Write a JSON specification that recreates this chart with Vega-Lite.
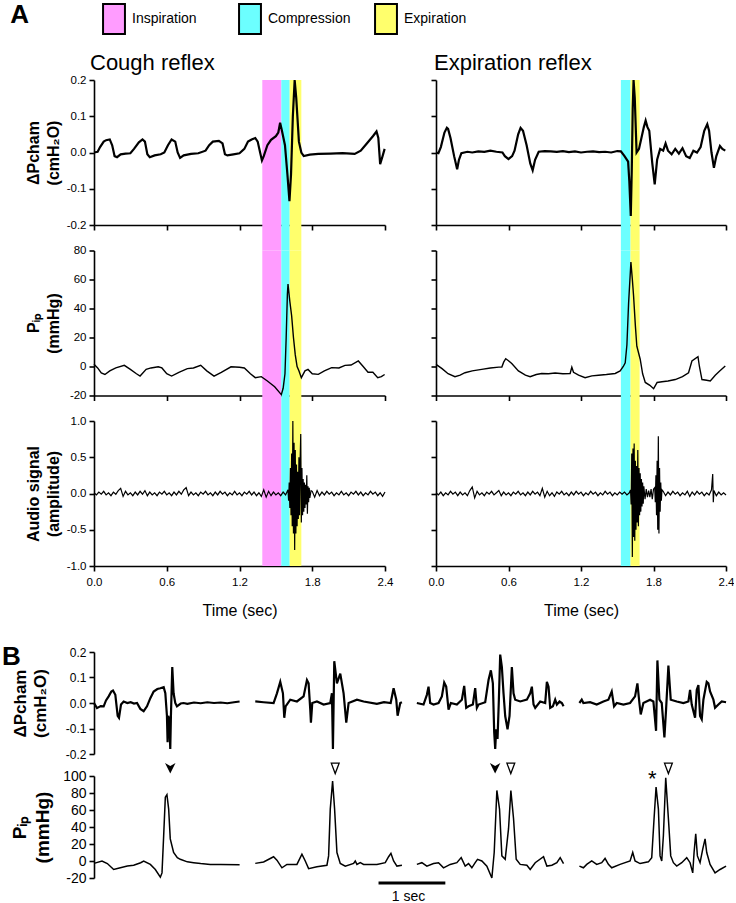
{
"$schema": "https://vega.github.io/schema/vega-lite/v6.json",
"background": "white",
"padding": {"left": 2, "top": 1, "right": 0, "bottom": 0},
"config": {
  "view": {"stroke": null},
  "font": "Liberation Sans",
  "axis": {"grid": false, "domainColor": "black", "domainWidth": 1.6, "tickColor": "black", "tickWidth": 1.6, "tickSize": 5, "labelColor": "black", "labelFont": "Liberation Sans", "labelFontSize": 11.5, "labelPadding": 3, "titleColor": "black", "titleFont": "Liberation Sans", "titleFontWeight": "bold", "titleFontSize": 16, "titleLineHeight": 20, "zindex": 1, "labelOverlap": false},
  "axisX": {"labelFlush": false, "labelPadding": 5, "titleFontWeight": "normal", "titleFontSize": 16, "titlePadding": 15},
  "title": {"font": "Liberation Sans", "color": "black"},
  "legend": {"orient": "none", "legendX": 4, "legendY": -77, "direction": "horizontal", "symbolType": "M-0.73,-1H0.73V1H-0.73Z", "symbolSize": 900, "symbolStrokeColor": "black", "symbolStrokeWidth": 2, "symbolOpacity": 1, "labelFont": "Liberation Sans", "labelFontSize": 14, "labelColor": "black", "labelOffset": 2, "columnPadding": 19, "gridAlign": "all"}
},
"datasets": {
  "bands": [
    {"col": "cough", "phase": "Inspiration", "start": 1.388, "end": 1.545},
    {"col": "cough", "phase": "Compression", "start": 1.545, "end": 1.614},
    {"col": "cough", "phase": "Expiration", "start": 1.614, "end": 1.71},
    {"col": "exp", "phase": "Compression", "start": 1.53, "end": 1.61},
    {"col": "exp", "phase": "Expiration", "start": 1.61, "end": 1.685}
  ],
  "cough_dp": [
    {"t":0.00,"v":0.000},{"t":0.03,"v":0.002},{"t":0.05,"v":0.015},{"t":0.08,"v":0.030},{"t":0.10,"v":0.034},{"t":0.13,"v":0.036},{"t":0.15,"v":0.020},{"t":0.17,"v":-0.010},{"t":0.19,"v":-0.013},{"t":0.22,"v":-0.005},{"t":0.26,"v":-0.003},{"t":0.30,"v":-0.002},{"t":0.33,"v":0.010},{"t":0.37,"v":0.028},{"t":0.40,"v":0.036},{"t":0.42,"v":0.030},{"t":0.44,"v":-0.005},{"t":0.46,"v":-0.013},{"t":0.50,"v":-0.008},{"t":0.55,"v":-0.005},{"t":0.58,"v":0.000},{"t":0.61,"v":0.020},{"t":0.64,"v":0.036},{"t":0.67,"v":0.030},{"t":0.69,"v":0.000},{"t":0.71,"v":-0.015},{"t":0.74,"v":-0.008},{"t":0.80,"v":-0.004},{"t":0.86,"v":-0.002},{"t":0.92,"v":0.005},{"t":0.95,"v":0.020},{"t":0.98,"v":0.030},{"t":1.03,"v":0.032},{"t":1.06,"v":0.025},{"t":1.08,"v":-0.005},{"t":1.10,"v":-0.008},{"t":1.15,"v":-0.005},{"t":1.20,"v":-0.002},{"t":1.24,"v":0.010},{"t":1.27,"v":0.030},{"t":1.30,"v":0.036},{"t":1.33,"v":0.040},{"t":1.35,"v":0.030},{"t":1.37,"v":0.000},{"t":1.385,"v":-0.022},{"t":1.40,"v":-0.010},{"t":1.43,"v":0.020},{"t":1.46,"v":0.035},{"t":1.50,"v":0.045},{"t":1.52,"v":0.055},{"t":1.535,"v":0.082},{"t":1.55,"v":0.060},{"t":1.575,"v":0.020},{"t":1.595,"v":-0.060},{"t":1.612,"v":-0.134},{"t":1.625,"v":-0.060},{"t":1.640,"v":0.100},{"t":1.655,"v":0.200},{"t":1.668,"v":0.150},{"t":1.690,"v":0.030},{"t":1.71,"v":0.000},{"t":1.73,"v":-0.010},{"t":1.78,"v":-0.006},{"t":1.85,"v":-0.004},{"t":1.95,"v":-0.003},{"t":2.05,"v":-0.002},{"t":2.15,"v":-0.004},{"t":2.20,"v":0.005},{"t":2.25,"v":0.025},{"t":2.30,"v":0.045},{"t":2.33,"v":0.058},{"t":2.345,"v":0.040},{"t":2.36,"v":-0.032},{"t":2.38,"v":-0.010},{"t":2.397,"v":0.010}
  ],
  "exp_dp": [
    {"t":0.00,"v":0.000},{"t":0.02,"v":-0.002},{"t":0.04,"v":0.015},{"t":0.07,"v":0.055},{"t":0.09,"v":0.068},{"t":0.10,"v":0.065},{"t":0.12,"v":0.040},{"t":0.15,"v":-0.010},{"t":0.175,"v":-0.046},{"t":0.19,"v":-0.020},{"t":0.21,"v":-0.002},{"t":0.26,"v":0.002},{"t":0.30,"v":0.000},{"t":0.35,"v":0.003},{"t":0.40,"v":0.002},{"t":0.45,"v":0.005},{"t":0.50,"v":0.002},{"t":0.55,"v":0.000},{"t":0.57,"v":-0.010},{"t":0.60,"v":-0.018},{"t":0.63,"v":-0.010},{"t":0.65,"v":0.005},{"t":0.68,"v":0.050},{"t":0.70,"v":0.068},{"t":0.72,"v":0.060},{"t":0.75,"v":0.020},{"t":0.78,"v":-0.030},{"t":0.80,"v":-0.049},{"t":0.82,"v":-0.020},{"t":0.85,"v":0.002},{"t":0.90,"v":0.004},{"t":0.95,"v":0.003},{"t":1.00,"v":0.002},{"t":1.05,"v":0.004},{"t":1.10,"v":0.001},{"t":1.15,"v":0.003},{"t":1.20,"v":0.000},{"t":1.25,"v":0.002},{"t":1.30,"v":0.003},{"t":1.35,"v":0.001},{"t":1.40,"v":0.002},{"t":1.45,"v":0.000},{"t":1.50,"v":0.004},{"t":1.53,"v":0.003},{"t":1.56,"v":-0.010},{"t":1.59,"v":-0.025},{"t":1.60,"v":-0.080},{"t":1.612,"v":-0.175},{"t":1.620,"v":-0.050},{"t":1.628,"v":0.120},{"t":1.635,"v":0.200},{"t":1.645,"v":0.150},{"t":1.660,"v":0.000},{"t":1.68,"v":0.010},{"t":1.70,"v":0.040},{"t":1.72,"v":0.070},{"t":1.735,"v":0.088},{"t":1.75,"v":0.070},{"t":1.765,"v":0.060},{"t":1.79,"v":-0.030},{"t":1.81,"v":-0.088},{"t":1.83,"v":-0.020},{"t":1.855,"v":0.010},{"t":1.88,"v":0.005},{"t":1.90,"v":0.025},{"t":1.92,"v":0.005},{"t":1.95,"v":-0.005},{"t":1.98,"v":0.010},{"t":2.01,"v":-0.003},{"t":2.04,"v":0.012},{"t":2.07,"v":-0.010},{"t":2.10,"v":-0.015},{"t":2.13,"v":0.005},{"t":2.16,"v":0.000},{"t":2.19,"v":0.015},{"t":2.22,"v":0.060},{"t":2.245,"v":0.078},{"t":2.26,"v":0.060},{"t":2.28,"v":0.000},{"t":2.30,"v":-0.042},{"t":2.32,"v":-0.010},{"t":2.35,"v":0.018},{"t":2.37,"v":0.010},{"t":2.394,"v":0.005}
  ],
  "cough_pip": [
    {"t":0.00,"v":1.5},{"t":0.03,"v":-1},{"t":0.06,"v":-4.5},{"t":0.09,"v":-5.5},{"t":0.13,"v":-3},{"t":0.18,"v":-1},{"t":0.25,"v":0.8},{"t":0.30,"v":-2},{"t":0.35,"v":-5},{"t":0.38,"v":-6.6},{"t":0.43,"v":-2},{"t":0.47,"v":-1},{"t":0.53,"v":-0.2},{"t":0.56,"v":-1},{"t":0.60,"v":-5},{"t":0.64,"v":-6.6},{"t":0.70,"v":-4},{"t":0.77,"v":-1.5},{"t":0.82,"v":-1},{"t":0.88,"v":0.8},{"t":0.93,"v":-3},{"t":0.99,"v":-6.6},{"t":1.05,"v":-4},{"t":1.13,"v":-0.2},{"t":1.20,"v":-0.5},{"t":1.24,"v":-1},{"t":1.29,"v":-5},{"t":1.33,"v":-7.7},{"t":1.38,"v":-7},{"t":1.43,"v":-10},{"t":1.49,"v":-14},{"t":1.545,"v":-19.4},{"t":1.56,"v":-15},{"t":1.575,"v":-5},{"t":1.585,"v":20},{"t":1.595,"v":50},{"t":1.60,"v":56.8},{"t":1.615,"v":45},{"t":1.63,"v":35},{"t":1.645,"v":20},{"t":1.66,"v":8},{"t":1.675,"v":0},{"t":1.69,"v":-3},{"t":1.71,"v":-7.7},{"t":1.74,"v":-3},{"t":1.765,"v":-2},{"t":1.80,"v":-5},{"t":1.85,"v":-5.4},{"t":1.90,"v":-3},{"t":1.96,"v":-0.8},{"t":2.02,"v":-1},{"t":2.07,"v":0.8},{"t":2.12,"v":1},{"t":2.18,"v":3.8},{"t":2.22,"v":0},{"t":2.26,"v":-4},{"t":2.30,"v":-4},{"t":2.34,"v":-7.7},{"t":2.37,"v":-7},{"t":2.397,"v":-5.5}
  ],
  "exp_pip": [
    {"t":0.00,"v":1.5},{"t":0.05,"v":-1.5},{"t":0.10,"v":-5},{"t":0.157,"v":-7},{"t":0.20,"v":-6},{"t":0.24,"v":-4.3},{"t":0.30,"v":-3},{"t":0.378,"v":-2},{"t":0.45,"v":-1},{"t":0.52,"v":-0.4},{"t":0.545,"v":-0.4},{"t":0.56,"v":3},{"t":0.577,"v":5.4},{"t":0.60,"v":4},{"t":0.627,"v":2},{"t":0.682,"v":-3},{"t":0.74,"v":-6},{"t":0.779,"v":-7},{"t":0.83,"v":-5.5},{"t":0.875,"v":-4.8},{"t":0.93,"v":-5},{"t":0.986,"v":-4.5},{"t":1.05,"v":-5},{"t":1.11,"v":-4.8},{"t":1.124,"v":-0.5},{"t":1.138,"v":-4},{"t":1.18,"v":-6},{"t":1.234,"v":-7.7},{"t":1.29,"v":-6.5},{"t":1.345,"v":-6},{"t":1.41,"v":-5.5},{"t":1.483,"v":-4.8},{"t":1.524,"v":-3.1},{"t":1.55,"v":0},{"t":1.566,"v":2.6},{"t":1.58,"v":15},{"t":1.594,"v":44},{"t":1.613,"v":72},{"t":1.625,"v":60},{"t":1.635,"v":48.8},{"t":1.65,"v":28},{"t":1.662,"v":14},{"t":1.69,"v":5},{"t":1.71,"v":-5},{"t":1.732,"v":-11},{"t":1.77,"v":-13},{"t":1.801,"v":-15.3},{"t":1.83,"v":-11},{"t":1.87,"v":-10.5},{"t":1.92,"v":-10},{"t":1.98,"v":-9},{"t":2.04,"v":-7},{"t":2.09,"v":-4.3},{"t":2.118,"v":3.8},{"t":2.168,"v":6.8},{"t":2.18,"v":0},{"t":2.201,"v":-9},{"t":2.24,"v":-9.5},{"t":2.27,"v":-10},{"t":2.311,"v":-6},{"t":2.35,"v":-3},{"t":2.394,"v":0.3}
  ],
  "cough_audio": [
    {"t":0.00,"v":0.01},{"t":0.02,"v":-0.02},{"t":0.04,"v":0.02},{"t":0.06,"v":-0.01},{"t":0.08,"v":0.03},{"t":0.10,"v":-0.02},{"t":0.12,"v":0.01},{"t":0.14,"v":-0.03},{"t":0.16,"v":0.02},{"t":0.18,"v":-0.01},{"t":0.20,"v":0.04},{"t":0.22,"v":0.07},{"t":0.24,"v":-0.04},{"t":0.26,"v":0.03},{"t":0.28,"v":-0.02},{"t":0.30,"v":0.01},{"t":0.32,"v":-0.03},{"t":0.34,"v":0.02},{"t":0.36,"v":-0.02},{"t":0.38,"v":0.03},{"t":0.40,"v":-0.01},{"t":0.42,"v":0.04},{"t":0.44,"v":-0.03},{"t":0.46,"v":0.02},{"t":0.48,"v":-0.02},{"t":0.50,"v":0.01},{"t":0.52,"v":-0.03},{"t":0.54,"v":0.02},{"t":0.56,"v":-0.01},{"t":0.58,"v":0.03},{"t":0.60,"v":-0.02},{"t":0.62,"v":0.01},{"t":0.64,"v":-0.03},{"t":0.66,"v":0.02},{"t":0.68,"v":-0.02},{"t":0.70,"v":0.03},{"t":0.72,"v":-0.01},{"t":0.74,"v":0.05},{"t":0.76,"v":0.08},{"t":0.78,"v":-0.03},{"t":0.80,"v":0.02},{"t":0.82,"v":-0.02},{"t":0.84,"v":0.01},{"t":0.86,"v":-0.03},{"t":0.88,"v":0.02},{"t":0.90,"v":-0.01},{"t":0.92,"v":0.03},{"t":0.94,"v":-0.02},{"t":0.96,"v":0.01},{"t":0.98,"v":-0.03},{"t":1.00,"v":0.02},{"t":1.02,"v":-0.02},{"t":1.04,"v":0.03},{"t":1.06,"v":-0.01},{"t":1.08,"v":0.02},{"t":1.10,"v":-0.03},{"t":1.12,"v":0.01},{"t":1.14,"v":-0.02},{"t":1.16,"v":0.03},{"t":1.18,"v":-0.02},{"t":1.20,"v":0.01},{"t":1.22,"v":-0.03},{"t":1.24,"v":0.02},{"t":1.26,"v":-0.01},{"t":1.28,"v":0.03},{"t":1.30,"v":-0.02},{"t":1.32,"v":0.02},{"t":1.34,"v":-0.03},{"t":1.36,"v":0.01},{"t":1.38,"v":-0.04},{"t":1.40,"v":0.05},{"t":1.42,"v":-0.05},{"t":1.44,"v":0.03},{"t":1.46,"v":-0.03},{"t":1.48,"v":0.02},{"t":1.50,"v":-0.02},{"t":1.52,"v":0.01},{"t":1.54,"v":-0.03},{"t":1.56,"v":0.02},{"t":1.58,"v":-0.02},
    {"t":1.600,"v":0.05},{"t":1.605,"v":-0.10},{"t":1.610,"v":0.15},{"t":1.615,"v":-0.20},{"t":1.620,"v":0.35},{"t":1.625,"v":-0.30},{"t":1.630,"v":0.55},{"t":1.635,"v":-0.45},{"t":1.640,"v":1.00},{"t":1.645,"v":-0.55},{"t":1.650,"v":0.70},{"t":1.655,"v":-0.78},{"t":1.660,"v":0.60},{"t":1.665,"v":-0.55},{"t":1.670,"v":0.40},{"t":1.675,"v":-0.45},{"t":1.680,"v":0.30},{"t":1.685,"v":-0.35},{"t":1.690,"v":0.50},{"t":1.695,"v":-0.30},{"t":1.700,"v":0.45},{"t":1.705,"v":0.82},{"t":1.710,"v":-0.40},{"t":1.715,"v":0.35},{"t":1.720,"v":-0.30},{"t":1.725,"v":0.20},{"t":1.730,"v":-0.25},{"t":1.735,"v":0.15},{"t":1.740,"v":-0.20},{"t":1.745,"v":0.12},{"t":1.750,"v":-0.15},{"t":1.755,"v":0.25},{"t":1.760,"v":-0.28},{"t":1.765,"v":0.10},{"t":1.770,"v":-0.12},{"t":1.775,"v":0.08},{"t":1.780,"v":-0.06},{"t":1.790,"v":0.04},
    {"t":1.80,"v":0.03},{"t":1.82,"v":-0.05},{"t":1.84,"v":0.04},{"t":1.86,"v":-0.03},{"t":1.88,"v":0.02},{"t":1.90,"v":-0.02},{"t":1.92,"v":0.03},{"t":1.94,"v":-0.01},{"t":1.96,"v":0.02},{"t":1.98,"v":-0.03},{"t":2.00,"v":0.01},{"t":2.02,"v":-0.02},{"t":2.04,"v":0.03},{"t":2.06,"v":-0.02},{"t":2.08,"v":0.01},{"t":2.10,"v":-0.03},{"t":2.12,"v":0.02},{"t":2.14,"v":-0.01},{"t":2.16,"v":0.03},{"t":2.18,"v":-0.02},{"t":2.20,"v":0.02},{"t":2.22,"v":-0.03},{"t":2.24,"v":0.01},{"t":2.26,"v":-0.02},{"t":2.28,"v":0.03},{"t":2.30,"v":-0.01},{"t":2.32,"v":0.02},{"t":2.34,"v":-0.03},{"t":2.36,"v":0.01},{"t":2.38,"v":-0.04},{"t":2.40,"v":0.02}
  ],
  "exp_audio": [
    {"t":0.00,"v":0.01},{"t":0.02,"v":-0.02},{"t":0.04,"v":0.02},{"t":0.06,"v":-0.03},{"t":0.08,"v":0.01},{"t":0.10,"v":-0.02},{"t":0.12,"v":0.03},{"t":0.14,"v":-0.01},{"t":0.16,"v":0.02},{"t":0.18,"v":-0.03},{"t":0.20,"v":0.02},{"t":0.22,"v":-0.02},{"t":0.24,"v":0.01},{"t":0.26,"v":-0.03},{"t":0.28,"v":0.04},{"t":0.30,"v":0.09},{"t":0.32,"v":-0.06},{"t":0.34,"v":0.03},{"t":0.36,"v":-0.02},{"t":0.38,"v":0.01},{"t":0.40,"v":-0.03},{"t":0.42,"v":0.02},{"t":0.44,"v":-0.01},{"t":0.46,"v":0.03},{"t":0.48,"v":-0.02},{"t":0.50,"v":0.01},{"t":0.52,"v":0.04},{"t":0.54,"v":-0.03},{"t":0.56,"v":0.02},{"t":0.58,"v":-0.02},{"t":0.60,"v":0.01},{"t":0.62,"v":-0.03},{"t":0.64,"v":0.02},{"t":0.66,"v":-0.01},{"t":0.68,"v":0.03},{"t":0.70,"v":-0.02},{"t":0.72,"v":0.01},{"t":0.74,"v":-0.03},{"t":0.76,"v":0.02},{"t":0.78,"v":-0.02},{"t":0.80,"v":0.03},{"t":0.82,"v":-0.01},{"t":0.84,"v":0.02},{"t":0.86,"v":-0.03},{"t":0.88,"v":0.07},{"t":0.90,"v":-0.05},{"t":0.92,"v":0.03},{"t":0.94,"v":-0.03},{"t":0.96,"v":0.01},{"t":0.98,"v":-0.04},{"t":1.00,"v":0.02},{"t":1.02,"v":-0.01},{"t":1.04,"v":0.03},{"t":1.06,"v":-0.02},{"t":1.08,"v":0.01},{"t":1.10,"v":-0.03},{"t":1.12,"v":0.02},{"t":1.14,"v":-0.02},{"t":1.16,"v":0.03},{"t":1.18,"v":-0.01},{"t":1.20,"v":0.02},{"t":1.22,"v":-0.03},{"t":1.24,"v":0.01},{"t":1.26,"v":-0.02},{"t":1.28,"v":0.03},{"t":1.30,"v":-0.01},{"t":1.32,"v":0.02},{"t":1.34,"v":-0.03},{"t":1.36,"v":0.01},{"t":1.38,"v":-0.02},{"t":1.40,"v":0.03},{"t":1.42,"v":-0.01},{"t":1.44,"v":0.02},{"t":1.46,"v":-0.03},{"t":1.48,"v":0.01},{"t":1.50,"v":-0.02},{"t":1.52,"v":0.02},{"t":1.54,"v":-0.01},{"t":1.56,"v":0.02},{"t":1.58,"v":-0.02},{"t":1.60,"v":0.01},
    {"t":1.610,"v":0.05},{"t":1.615,"v":-0.15},{"t":1.620,"v":0.55},{"t":1.625,"v":-0.875},{"t":1.630,"v":0.62},{"t":1.635,"v":-0.60},{"t":1.640,"v":0.69},{"t":1.645,"v":-0.65},{"t":1.650,"v":0.45},{"t":1.655,"v":-0.50},{"t":1.660,"v":0.38},{"t":1.665,"v":-0.40},{"t":1.670,"v":0.60},{"t":1.675,"v":-0.45},{"t":1.680,"v":0.35},{"t":1.685,"v":-0.30},{"t":1.690,"v":0.28},{"t":1.695,"v":-0.25},{"t":1.700,"v":0.20},{"t":1.705,"v":-0.18},{"t":1.710,"v":0.15},{"t":1.715,"v":-0.14},{"t":1.720,"v":0.10},{"t":1.730,"v":-0.08},{"t":1.740,"v":0.06},{"t":1.750,"v":-0.05},{"t":1.760,"v":0.04},{"t":1.770,"v":-0.05},{"t":1.780,"v":0.06},{"t":1.790,"v":-0.08},{"t":1.800,"v":0.06},{"t":1.810,"v":0.08},{"t":1.815,"v":-0.12},{"t":1.820,"v":0.25},{"t":1.825,"v":-0.30},{"t":1.830,"v":0.45},{"t":1.835,"v":-0.50},{"t":1.840,"v":0.79},{"t":1.845,"v":-0.55},{"t":1.850,"v":0.35},{"t":1.855,"v":-0.25},{"t":1.860,"v":0.15},{"t":1.865,"v":-0.10},{"t":1.870,"v":0.05},
    {"t":1.88,"v":0.03},{"t":1.90,"v":-0.03},{"t":1.92,"v":0.02},{"t":1.94,"v":-0.02},{"t":1.96,"v":0.03},{"t":1.98,"v":-0.01},{"t":2.00,"v":0.02},{"t":2.02,"v":-0.03},{"t":2.04,"v":0.01},{"t":2.06,"v":-0.02},{"t":2.08,"v":0.03},{"t":2.10,"v":-0.04},{"t":2.12,"v":0.02},{"t":2.14,"v":-0.02},{"t":2.16,"v":0.03},{"t":2.18,"v":-0.01},{"t":2.20,"v":0.02},{"t":2.22,"v":-0.03},{"t":2.24,"v":0.01},{"t":2.26,"v":-0.02},{"t":2.28,"v":0.05},{"t":2.29,"v":0.27},{"t":2.295,"v":-0.12},{"t":2.30,"v":0.04},{"t":2.32,"v":-0.03},{"t":2.34,"v":0.02},{"t":2.36,"v":-0.02},{"t":2.38,"v":0.01},{"t":2.40,"v":-0.02}
  ],
  "b_dp": [
    {"seg":1,"t":0.00,"v":0.000},{"seg":1,"t":0.045,"v":-0.020},{"seg":1,"t":0.10,"v":-0.012},{"seg":1,"t":0.145,"v":-0.013},{"seg":1,"t":0.18,"v":0.010},{"seg":1,"t":0.22,"v":0.026},{"seg":1,"t":0.26,"v":0.045},{"seg":1,"t":0.285,"v":0.049},{"seg":1,"t":0.32,"v":0.032},{"seg":1,"t":0.355,"v":-0.050},{"seg":1,"t":0.375,"v":-0.058},{"seg":1,"t":0.405,"v":-0.006},{"seg":1,"t":0.445,"v":0.006},{"seg":1,"t":0.50,"v":0.000},{"seg":1,"t":0.55,"v":0.003},{"seg":1,"t":0.60,"v":-0.002},{"seg":1,"t":0.645,"v":0.000},{"seg":1,"t":0.695,"v":-0.023},{"seg":1,"t":0.745,"v":-0.032},{"seg":1,"t":0.795,"v":-0.013},{"seg":1,"t":0.845,"v":0.019},{"seg":1,"t":0.895,"v":0.045},{"seg":1,"t":0.95,"v":0.055},{"seg":1,"t":0.995,"v":0.058},{"seg":1,"t":1.045,"v":0.062},{"seg":1,"t":1.07,"v":0.038},{"seg":1,"t":1.094,"v":-0.050},{"seg":1,"t":1.104,"v":-0.154},{"seg":1,"t":1.114,"v":-0.050},{"seg":1,"t":1.13,"v":-0.064},{"seg":1,"t":1.144,"v":-0.180},{"seg":1,"t":1.154,"v":-0.050},{"seg":1,"t":1.174,"v":0.141},{"seg":1,"t":1.194,"v":0.038},{"seg":1,"t":1.219,"v":0.000},{"seg":1,"t":1.244,"v":-0.013},{"seg":1,"t":1.30,"v":-0.002},{"seg":1,"t":1.344,"v":0.000},{"seg":1,"t":1.40,"v":-0.003},{"seg":1,"t":1.50,"v":0.002},{"seg":1,"t":1.60,"v":-0.001},{"seg":1,"t":1.70,"v":0.003},{"seg":1,"t":1.80,"v":0.000},{"seg":1,"t":1.90,"v":0.002},{"seg":1,"t":2.00,"v":-0.001},{"seg":1,"t":2.10,"v":0.003},{"seg":1,"t":2.184,"v":0.006},
    {"seg":2,"t":2.419,"v":0.006},{"seg":2,"t":2.544,"v":0.003},{"seg":2,"t":2.694,"v":0.000},{"seg":2,"t":2.744,"v":0.038},{"seg":2,"t":2.794,"v":0.083},{"seg":2,"t":2.834,"v":0.038},{"seg":2,"t":2.854,"v":-0.058},{"seg":2,"t":2.874,"v":-0.013},{"seg":2,"t":2.944,"v":0.013},{"seg":2,"t":3.044,"v":0.006},{"seg":2,"t":3.144,"v":0.026},{"seg":2,"t":3.194,"v":0.090},{"seg":2,"t":3.219,"v":0.077},{"seg":2,"t":3.244,"v":-0.026},{"seg":2,"t":3.254,"v":-0.077},{"seg":2,"t":3.274,"v":0.000},{"seg":2,"t":3.344,"v":0.006},{"seg":2,"t":3.444,"v":-0.006},{"seg":2,"t":3.544,"v":0.000},{"seg":2,"t":3.569,"v":0.038},{"seg":2,"t":3.584,"v":-0.180},{"seg":2,"t":3.604,"v":0.164},{"seg":2,"t":3.644,"v":0.077},{"seg":2,"t":3.694,"v":0.115},{"seg":2,"t":3.744,"v":0.038},{"seg":2,"t":3.784,"v":-0.077},{"seg":2,"t":3.819,"v":0.000},{"seg":2,"t":3.944,"v":0.013},{"seg":2,"t":4.044,"v":0.006},{"seg":2,"t":4.244,"v":-0.003},{"seg":2,"t":4.35,"v":0.003},{"seg":2,"t":4.45,"v":0.000},{"seg":2,"t":4.494,"v":0.058},{"seg":2,"t":4.534,"v":0.013},{"seg":2,"t":4.554,"v":-0.050},{"seg":2,"t":4.594,"v":0.000},{"seg":2,"t":4.619,"v":0.003},
    {"seg":3,"t":4.843,"v":0.000},{"seg":3,"t":4.943,"v":-0.006},{"seg":3,"t":4.993,"v":0.032},{"seg":3,"t":5.018,"v":0.064},{"seg":3,"t":5.043,"v":0.000},{"seg":3,"t":5.093,"v":-0.006},{"seg":3,"t":5.168,"v":0.000},{"seg":3,"t":5.218,"v":0.026},{"seg":3,"t":5.253,"v":0.080},{"seg":3,"t":5.283,"v":0.064},{"seg":3,"t":5.318,"v":-0.026},{"seg":3,"t":5.353,"v":0.000},{"seg":3,"t":5.443,"v":-0.006},{"seg":3,"t":5.518,"v":0.013},{"seg":3,"t":5.553,"v":0.067},{"seg":3,"t":5.583,"v":-0.019},{"seg":3,"t":5.618,"v":-0.013},{"seg":3,"t":5.683,"v":-0.006},{"seg":3,"t":5.718,"v":0.058},{"seg":3,"t":5.743,"v":-0.019},{"seg":3,"t":5.768,"v":-0.006},{"seg":3,"t":5.868,"v":0.003},{"seg":3,"t":5.918,"v":0.090},{"seg":3,"t":5.953,"v":0.128},{"seg":3,"t":5.983,"v":0.077},{"seg":3,"t":6.003,"v":-0.115},{"seg":3,"t":6.018,"v":-0.180},{"seg":3,"t":6.033,"v":-0.103},{"seg":3,"t":6.053,"v":-0.141},{"seg":3,"t":6.073,"v":0.013},{"seg":3,"t":6.093,"v":0.190},{"seg":3,"t":6.118,"v":0.141},{"seg":3,"t":6.143,"v":0.038},{"seg":3,"t":6.168,"v":-0.051},{"seg":3,"t":6.203,"v":-0.103},{"seg":3,"t":6.233,"v":-0.051},{"seg":3,"t":6.268,"v":0.141},{"seg":3,"t":6.293,"v":0.038},{"seg":3,"t":6.318,"v":0.013},{"seg":3,"t":6.393,"v":0.006},{"seg":3,"t":6.493,"v":0.013},{"seg":3,"t":6.543,"v":0.038},{"seg":3,"t":6.568,"v":0.064},{"seg":3,"t":6.593,"v":-0.006},{"seg":3,"t":6.618,"v":-0.019},{"seg":3,"t":6.693,"v":0.006},{"seg":3,"t":6.768,"v":0.000},{"seg":3,"t":6.793,"v":0.083},{"seg":3,"t":6.818,"v":0.064},{"seg":3,"t":6.843,"v":-0.019},{"seg":3,"t":6.883,"v":-0.013},{"seg":3,"t":6.918,"v":0.013},{"seg":3,"t":6.943,"v":-0.006},{"seg":3,"t":6.983,"v":0.006},{"seg":3,"t":7.018,"v":0.000},{"seg":3,"t":7.043,"v":-0.013},
    {"seg":4,"t":7.281,"v":0.000},{"seg":4,"t":7.316,"v":0.013},{"seg":4,"t":7.341,"v":0.000},{"seg":4,"t":7.441,"v":0.003},{"seg":4,"t":7.541,"v":-0.006},{"seg":4,"t":7.641,"v":0.006},{"seg":4,"t":7.716,"v":0.013},{"seg":4,"t":7.766,"v":0.045},{"seg":4,"t":7.801,"v":-0.013},{"seg":4,"t":7.841,"v":0.000},{"seg":4,"t":7.941,"v":-0.006},{"seg":4,"t":8.041,"v":0.000},{"seg":4,"t":8.116,"v":0.026},{"seg":4,"t":8.151,"v":0.077},{"seg":4,"t":8.181,"v":0.000},{"seg":4,"t":8.201,"v":-0.045},{"seg":4,"t":8.241,"v":0.000},{"seg":4,"t":8.341,"v":0.013},{"seg":4,"t":8.391,"v":0.006},{"seg":4,"t":8.431,"v":-0.109},{"seg":4,"t":8.451,"v":0.167},{"seg":4,"t":8.481,"v":0.013},{"seg":4,"t":8.516,"v":0.000},{"seg":4,"t":8.556,"v":-0.135},{"seg":4,"t":8.581,"v":-0.026},{"seg":4,"t":8.616,"v":0.147},{"seg":4,"t":8.651,"v":0.013},{"seg":4,"t":8.741,"v":0.006},{"seg":4,"t":8.841,"v":0.000},{"seg":4,"t":8.916,"v":0.006},{"seg":4,"t":8.941,"v":0.051},{"seg":4,"t":8.966,"v":-0.006},{"seg":4,"t":9.016,"v":-0.058},{"seg":4,"t":9.041,"v":0.051},{"seg":4,"t":9.066,"v":0.070},{"seg":4,"t":9.091,"v":-0.051},{"seg":4,"t":9.116,"v":-0.064},{"seg":4,"t":9.141,"v":0.013},{"seg":4,"t":9.191,"v":0.083},{"seg":4,"t":9.216,"v":0.077},{"seg":4,"t":9.241,"v":0.045},{"seg":4,"t":9.291,"v":0.013},{"seg":4,"t":9.316,"v":-0.019},{"seg":4,"t":9.366,"v":-0.006},{"seg":4,"t":9.416,"v":0.006},{"seg":4,"t":9.481,"v":0.003}
  ],
  "b_pip": [
    {"seg":1,"t":0.00,"v":-2.8},{"seg":1,"t":0.12,"v":0.0},{"seg":1,"t":0.20,"v":-3},{"seg":1,"t":0.295,"v":-10},{"seg":1,"t":0.395,"v":-8},{"seg":1,"t":0.50,"v":-6},{"seg":1,"t":0.595,"v":-5},{"seg":1,"t":0.70,"v":-2},{"seg":1,"t":0.745,"v":0.0},{"seg":1,"t":0.845,"v":-4},{"seg":1,"t":0.92,"v":-10},{"seg":1,"t":0.995,"v":-19},{"seg":1,"t":1.02,"v":-14},{"seg":1,"t":1.045,"v":29.7},{"seg":1,"t":1.07,"v":75},{"seg":1,"t":1.094,"v":78},{"seg":1,"t":1.12,"v":61},{"seg":1,"t":1.144,"v":26},{"seg":1,"t":1.194,"v":10},{"seg":1,"t":1.25,"v":4},{"seg":1,"t":1.294,"v":2},{"seg":1,"t":1.40,"v":-1},{"seg":1,"t":1.494,"v":-2},{"seg":1,"t":1.60,"v":-3},{"seg":1,"t":1.744,"v":-4},{"seg":1,"t":1.90,"v":-4.2},{"seg":1,"t":2.184,"v":-4.4},
    {"seg":2,"t":2.419,"v":-2.8},{"seg":2,"t":2.544,"v":-1.2},{"seg":2,"t":2.694,"v":5},{"seg":2,"t":2.744,"v":1},{"seg":2,"t":2.819,"v":-8},{"seg":2,"t":2.894,"v":-4},{"seg":2,"t":3.044,"v":-4},{"seg":2,"t":3.119,"v":8},{"seg":2,"t":3.169,"v":0},{"seg":2,"t":3.219,"v":-9},{"seg":2,"t":3.344,"v":-6.7},{"seg":2,"t":3.494,"v":-5},{"seg":2,"t":3.519,"v":6},{"seg":2,"t":3.544,"v":61},{"seg":2,"t":3.579,"v":94},{"seg":2,"t":3.609,"v":61},{"seg":2,"t":3.644,"v":10},{"seg":2,"t":3.694,"v":-2.8},{"seg":2,"t":3.769,"v":-6},{"seg":2,"t":3.894,"v":-2.8},{"seg":2,"t":3.919,"v":0},{"seg":2,"t":3.944,"v":-4},{"seg":2,"t":3.994,"v":-2},{"seg":2,"t":4.044,"v":-4},{"seg":2,"t":4.244,"v":-4},{"seg":2,"t":4.369,"v":-2},{"seg":2,"t":4.419,"v":5},{"seg":2,"t":4.454,"v":9},{"seg":2,"t":4.494,"v":0},{"seg":2,"t":4.544,"v":-6},{"seg":2,"t":4.619,"v":-5},
    {"seg":3,"t":4.843,"v":-4},{"seg":3,"t":4.918,"v":-2},{"seg":3,"t":4.993,"v":-6},{"seg":3,"t":5.093,"v":-3},{"seg":3,"t":5.168,"v":-2},{"seg":3,"t":5.243,"v":-8},{"seg":3,"t":5.343,"v":-4},{"seg":3,"t":5.443,"v":-2},{"seg":3,"t":5.508,"v":4},{"seg":3,"t":5.568,"v":-6},{"seg":3,"t":5.618,"v":-3},{"seg":3,"t":5.668,"v":-8},{"seg":3,"t":5.718,"v":-2},{"seg":3,"t":5.753,"v":2},{"seg":3,"t":5.818,"v":0},{"seg":3,"t":5.893,"v":-6},{"seg":3,"t":5.968,"v":-20},{"seg":3,"t":6.003,"v":10},{"seg":3,"t":6.043,"v":83},{"seg":3,"t":6.083,"v":61},{"seg":3,"t":6.118,"v":6},{"seg":3,"t":6.168,"v":2},{"seg":3,"t":6.218,"v":38},{"seg":3,"t":6.253,"v":83},{"seg":3,"t":6.293,"v":50},{"seg":3,"t":6.333,"v":2},{"seg":3,"t":6.393,"v":-4},{"seg":3,"t":6.493,"v":-5},{"seg":3,"t":6.543,"v":-10},{"seg":3,"t":6.618,"v":-2},{"seg":3,"t":6.743,"v":5},{"seg":3,"t":6.793,"v":-6},{"seg":3,"t":6.868,"v":-5},{"seg":3,"t":6.943,"v":-2},{"seg":3,"t":6.993,"v":4},{"seg":3,"t":7.043,"v":-3},
    {"seg":4,"t":7.281,"v":-6},{"seg":4,"t":7.341,"v":-8},{"seg":4,"t":7.391,"v":-4},{"seg":4,"t":7.466,"v":0},{"seg":4,"t":7.541,"v":-4},{"seg":4,"t":7.616,"v":-2},{"seg":4,"t":7.666,"v":3},{"seg":4,"t":7.716,"v":-4},{"seg":4,"t":7.766,"v":-8},{"seg":4,"t":7.891,"v":-4},{"seg":4,"t":8.041,"v":0},{"seg":4,"t":8.081,"v":10},{"seg":4,"t":8.116,"v":0},{"seg":4,"t":8.191,"v":-3},{"seg":4,"t":8.316,"v":-1},{"seg":4,"t":8.366,"v":4},{"seg":4,"t":8.401,"v":50},{"seg":4,"t":8.431,"v":87},{"seg":4,"t":8.466,"v":61},{"seg":4,"t":8.491,"v":6},{"seg":4,"t":8.516,"v":0},{"seg":4,"t":8.541,"v":30},{"seg":4,"t":8.576,"v":98},{"seg":4,"t":8.616,"v":50},{"seg":4,"t":8.651,"v":6},{"seg":4,"t":8.691,"v":-2},{"seg":4,"t":8.741,"v":-6},{"seg":4,"t":8.816,"v":-2},{"seg":4,"t":8.891,"v":4},{"seg":4,"t":8.941,"v":-2},{"seg":4,"t":8.981,"v":-14},{"seg":4,"t":9.001,"v":10},{"seg":4,"t":9.026,"v":32},{"seg":4,"t":9.051,"v":6},{"seg":4,"t":9.091,"v":-2},{"seg":4,"t":9.131,"v":14},{"seg":4,"t":9.166,"v":26},{"seg":4,"t":9.191,"v":10},{"seg":4,"t":9.241,"v":-4},{"seg":4,"t":9.316,"v":-14},{"seg":4,"t":9.391,"v":-10},{"seg":4,"t":9.481,"v":-6}
  ],
  "markers": [
    {"t": 1.144, "kind": "filled"},
    {"t": 3.618, "kind": "open"},
    {"t": 6.017, "kind": "filled"},
    {"t": 6.252, "kind": "open"},
    {"t": 8.376, "kind": "asterisk"},
    {"t": 8.616, "kind": "open"}
  ],
  "scalebar": [{"label": "1 sec"}]
},
"spacing": 25,
"vconcat": [
  {
    "title": {"text": "A", "anchor": "start", "fontSize": 26, "fontWeight": "bold", "offset": 24, "dx": -15},
    "bounds": "flush",
    "columns": 2,
    "spacing": {"row": 25.5, "column": 51},
    "concat": [
      {
        "width": 291, "height": 145,
        "title": {"text": "Cough reflex", "anchor": "start", "frame": "group", "fontSize": 22, "fontWeight": "normal", "offset": 1, "dx": -4, "dy": 2},
        "layer": [
          {"data": {"name": "bands"}, "transform": [{"filter": "datum.col == 'cough'"}], "mark": "rect",
           "encoding": {"x": {"field": "start", "type": "quantitative", "scale": {"domain": [0, 2.4], "nice": false}}, "x2": {"field": "end"},
             "y": {"datum": 0.2, "type": "quantitative", "scale": {"domain": [-0.2, 0.2], "nice": false, "zero": false}, "axis": {"values": [-0.2, -0.1, 0, 0.1, 0.2], "labelOverlap": false, "labelExpr": "replace(format(datum.value, '.1f'), '−', '-')", "title": ["ΔPcham", "(cmH₂O)"], "titlePadding": 5}}, "y2": {"datum": -0.2703},
             "color": {"field": "phase", "type": "nominal", "title": null, "scale": {"domain": ["Inspiration", "Compression", "Expiration"], "range": ["#ff9cff", "#6cffff", "#ffff6c"]}}}},
          {"data": {"name": "cough_dp"}, "mark": {"type": "line", "color": "black", "strokeWidth": 2.2},
           "encoding": {"x": {"field": "t", "type": "quantitative", "axis": {"values": [0, 0.6, 1.2, 1.8, 2.4], "labels": false, "title": null}},
             "y": {"field": "v", "type": "quantitative", "axis": {"values": [-0.2, -0.1, 0, 0.1, 0.2], "labelOverlap": false, "labelExpr": "replace(format(datum.value, '.1f'), '−', '-')", "title": ["ΔPcham", "(cmH₂O)"], "titlePadding": 5}}}}
        ]
      },
      {
        "width": 290, "height": 145,
        "title": {"text": "Expiration reflex", "anchor": "start", "frame": "group", "fontSize": 22, "fontWeight": "normal", "offset": 6, "dx": -2, "dy": 5},
        "layer": [
          {"data": {"name": "bands"}, "transform": [{"filter": "datum.col == 'exp'"}], "mark": "rect",
           "encoding": {"x": {"field": "start", "type": "quantitative", "scale": {"domain": [0, 2.4], "nice": false}}, "x2": {"field": "end"},
             "y": {"datum": 0.2, "type": "quantitative", "scale": {"domain": [-0.2, 0.2], "nice": false, "zero": false}, "axis": {"values": [-0.2, -0.1, 0, 0.1, 0.2], "labels": false, "title": null}}, "y2": {"datum": -0.2703},
             "color": {"field": "phase", "type": "nominal", "title": null, "scale": {"domain": ["Inspiration", "Compression", "Expiration"], "range": ["#ff9cff", "#6cffff", "#ffff6c"]}}}},
          {"data": {"name": "exp_dp"}, "mark": {"type": "line", "color": "black", "strokeWidth": 2.2},
           "encoding": {"x": {"field": "t", "type": "quantitative", "axis": {"values": [0, 0.6, 1.2, 1.8, 2.4], "labels": false, "title": null}},
             "y": {"field": "v", "type": "quantitative", "axis": {"values": [-0.2, -0.1, 0, 0.1, 0.2], "labels": false, "title": null}}}}
        ]
      },
      {
        "width": 291, "height": 145,
        "layer": [
          {"data": {"name": "bands"}, "transform": [{"filter": "datum.col == 'cough'"}], "mark": "rect",
           "encoding": {"x": {"field": "start", "type": "quantitative", "scale": {"domain": [0, 2.4], "nice": false}}, "x2": {"field": "end"},
             "y": {"datum": 80, "type": "quantitative", "scale": {"domain": [-20, 80], "nice": false, "zero": false}, "axis": {"values": [-20, 0, 20, 40, 60, 80], "labelOverlap": false, "labelExpr": "replace(format(datum.value, 'd'), '−', '-')", "title": ["Pᵢₚ", "(mmHg)"], "titlePadding": 8}}, "y2": {"datum": -37.6},
             "color": {"field": "phase", "type": "nominal", "title": null, "scale": {"domain": ["Inspiration", "Compression", "Expiration"], "range": ["#ff9cff", "#6cffff", "#ffff6c"]}}}},
          {"data": {"name": "cough_pip"}, "mark": {"type": "line", "color": "black", "strokeWidth": 1.4},
           "encoding": {"x": {"field": "t", "type": "quantitative", "axis": {"values": [0, 0.6, 1.2, 1.8, 2.4], "labels": false, "title": null}},
             "y": {"field": "v", "type": "quantitative", "axis": {"values": [-20, 0, 20, 40, 60, 80], "labelOverlap": false, "labelExpr": "replace(format(datum.value, 'd'), '−', '-')", "title": ["Pᵢₚ", "(mmHg)"], "titlePadding": 8}}}}
        ]
      },
      {
        "width": 290, "height": 145,
        "layer": [
          {"data": {"name": "bands"}, "transform": [{"filter": "datum.col == 'exp'"}], "mark": "rect",
           "encoding": {"x": {"field": "start", "type": "quantitative", "scale": {"domain": [0, 2.4], "nice": false}}, "x2": {"field": "end"},
             "y": {"datum": 80, "type": "quantitative", "scale": {"domain": [-20, 80], "nice": false, "zero": false}, "axis": {"values": [-20, 0, 20, 40, 60, 80], "labels": false, "title": null}}, "y2": {"datum": -37.6},
             "color": {"field": "phase", "type": "nominal", "title": null, "scale": {"domain": ["Inspiration", "Compression", "Expiration"], "range": ["#ff9cff", "#6cffff", "#ffff6c"]}}}},
          {"data": {"name": "exp_pip"}, "mark": {"type": "line", "color": "black", "strokeWidth": 1.4},
           "encoding": {"x": {"field": "t", "type": "quantitative", "axis": {"values": [0, 0.6, 1.2, 1.8, 2.4], "labels": false, "title": null}},
             "y": {"field": "v", "type": "quantitative", "axis": {"values": [-20, 0, 20, 40, 60, 80], "labels": false, "title": null}}}}
        ]
      },
      {
        "width": 291, "height": 145,
        "layer": [
          {"data": {"name": "bands"}, "transform": [{"filter": "datum.col == 'cough'"}], "mark": "rect",
           "encoding": {"x": {"field": "start", "type": "quantitative", "scale": {"domain": [0, 2.4], "nice": false}}, "x2": {"field": "end"},
             "y": {"datum": 1, "type": "quantitative", "scale": {"domain": [-1, 1], "nice": false, "zero": false}, "axis": {"values": [-1, -0.5, 0, 0.5, 1], "labelOverlap": false, "labelExpr": "replace(format(datum.value, '.1f'), '−', '-')", "title": ["Audio signal", "(amplitude)"], "titlePadding": 5}}, "y2": {"datum": -1},
             "color": {"field": "phase", "type": "nominal", "title": null, "scale": {"domain": ["Inspiration", "Compression", "Expiration"], "range": ["#ff9cff", "#6cffff", "#ffff6c"]}}}},
          {"data": {"name": "cough_audio"}, "mark": {"type": "line", "color": "black", "strokeWidth": 1.2},
           "encoding": {"x": {"field": "t", "type": "quantitative", "axis": {"values": [0, 0.6, 1.2, 1.8, 2.4], "labelOverlap": false, "format": ".1f", "title": "Time (sec)"}},
             "y": {"field": "v", "type": "quantitative", "axis": {"values": [-1, -0.5, 0, 0.5, 1], "labelOverlap": false, "labelExpr": "replace(format(datum.value, '.1f'), '−', '-')", "title": ["Audio signal", "(amplitude)"], "titlePadding": 5}}}}
        ]
      },
      {
        "width": 290, "height": 145,
        "layer": [
          {"data": {"name": "bands"}, "transform": [{"filter": "datum.col == 'exp'"}], "mark": "rect",
           "encoding": {"x": {"field": "start", "type": "quantitative", "scale": {"domain": [0, 2.4], "nice": false}}, "x2": {"field": "end"},
             "y": {"datum": 1, "type": "quantitative", "scale": {"domain": [-1, 1], "nice": false, "zero": false}, "axis": {"values": [-1, -0.5, 0, 0.5, 1], "labels": false, "title": null}}, "y2": {"datum": -1},
             "color": {"field": "phase", "type": "nominal", "title": null, "scale": {"domain": ["Inspiration", "Compression", "Expiration"], "range": ["#ff9cff", "#6cffff", "#ffff6c"]}}}},
          {"data": {"name": "exp_audio"}, "mark": {"type": "line", "color": "black", "strokeWidth": 1.2},
           "encoding": {"x": {"field": "t", "type": "quantitative", "axis": {"values": [0, 0.6, 1.2, 1.8, 2.4], "labelOverlap": false, "format": ".1f", "title": "Time (sec)"}},
             "y": {"field": "v", "type": "quantitative", "axis": {"values": [-1, -0.5, 0, 0.5, 1], "labels": false, "title": null}}}}
        ]
      }
    ]
  },
  {
    "bounds": "flush",
    "spacing": 22,
    "vconcat": [
      {
        "width": 632, "height": 102,
        "title": {"text": "B", "anchor": "start", "frame": "group", "fontSize": 26, "fontWeight": "bold", "offset": 0, "dx": -92, "dy": 24},
        "data": {"name": "b_dp"},
        "mark": {"type": "line", "color": "black", "strokeWidth": 2.2},
        "encoding": {
          "x": {"field": "t", "type": "quantitative", "scale": {"domain": [0, 9.48], "nice": false}, "axis": null},
          "y": {"field": "v", "type": "quantitative", "scale": {"domain": [-0.2, 0.2], "nice": false}, "axis": {"values": [-0.2, -0.1, 0, 0.1, 0.2], "labelOverlap": false, "labelExpr": "replace(format(datum.value, '.1f'), '−', '-')", "labelFontSize": 12, "titleFontSize": 17, "title": ["ΔPcham", "(cmH₂O)"], "titlePadding": 16}},
          "detail": {"field": "seg", "type": "nominal"}
        }
      },
      {
        "width": 632, "height": 102,
        "layer": [
          {"data": {"name": "b_pip"}, "mark": {"type": "line", "color": "black", "strokeWidth": 1.5},
           "encoding": {
             "x": {"field": "t", "type": "quantitative", "scale": {"domain": [0, 9.48], "nice": false}, "axis": null},
             "y": {"field": "v", "type": "quantitative", "scale": {"domain": [-20, 100], "nice": false}, "axis": {"values": [-20, 0, 20, 40, 60, 80, 100], "labelOverlap": false, "labelExpr": "replace(format(datum.value, 'd'), '−', '-')", "labelFontSize": 14, "titleFontSize": 19, "titleLineHeight": 23, "title": ["Pᵢₚ", "(mmHg)"], "titlePadding": 10}},
             "detail": {"field": "seg", "type": "nominal"}}},
          {"data": {"name": "markers"}, "transform": [{"filter": "datum.kind == 'filled'"}],
           "mark": {"type": "point", "shape": "M-1,-1L0,1L1,-1L0,-0.45Z", "filled": true, "color": "black", "size": 110, "opacity": 1},
           "encoding": {"x": {"field": "t", "type": "quantitative"}, "y": {"datum": 109, "axis": {"values": [-20, 0, 20, 40, 60, 80, 100], "labelOverlap": false, "labelExpr": "replace(format(datum.value, 'd'), '−', '-')", "labelFontSize": 14, "titleFontSize": 19, "titleLineHeight": 23, "title": ["Pᵢₚ", "(mmHg)"], "titlePadding": 10}}}},
          {"data": {"name": "markers"}, "transform": [{"filter": "datum.kind == 'open'"}],
           "mark": {"type": "point", "shape": "M-0.75,-1L0,1L0.75,-1Z", "filled": false, "stroke": "black", "strokeWidth": 1.3, "size": 110, "opacity": 1},
           "encoding": {"x": {"field": "t", "type": "quantitative"}, "y": {"datum": 109, "axis": {"values": [-20, 0, 20, 40, 60, 80, 100], "labelOverlap": false, "labelExpr": "replace(format(datum.value, 'd'), '−', '-')", "labelFontSize": 14, "titleFontSize": 19, "titleLineHeight": 23, "title": ["Pᵢₚ", "(mmHg)"], "titlePadding": 10}}}},
          {"data": {"name": "markers"}, "transform": [{"filter": "datum.kind == 'asterisk'"}],
           "mark": {"type": "text", "text": "*", "fontSize": 22, "color": "black", "baseline": "alphabetic", "align": "center"},
           "encoding": {"x": {"field": "t", "type": "quantitative"}, "y": {"datum": 88.8, "axis": {"values": [-20, 0, 20, 40, 60, 80, 100], "labelOverlap": false, "labelExpr": "replace(format(datum.value, 'd'), '−', '-')", "labelFontSize": 14, "titleFontSize": 19, "titleLineHeight": 23, "title": ["Pᵢₚ", "(mmHg)"], "titlePadding": 10}}}},
          {"data": {"name": "scalebar"}, "mark": {"type": "rule", "color": "black", "strokeWidth": 3},
           "encoding": {"x": {"datum": 4.268}, "x2": {"datum": 5.27}, "y": {"datum": -25.9, "axis": {"values": [-20, 0, 20, 40, 60, 80, 100], "labelOverlap": false, "labelExpr": "replace(format(datum.value, 'd'), '−', '-')", "labelFontSize": 14, "titleFontSize": 19, "titleLineHeight": 23, "title": ["Pᵢₚ", "(mmHg)"], "titlePadding": 10}}}},
          {"data": {"name": "scalebar"}, "mark": {"type": "text", "fontSize": 14, "color": "black", "baseline": "middle", "align": "center"},
           "encoding": {"x": {"datum": 4.718}, "y": {"datum": -42, "axis": {"values": [-20, 0, 20, 40, 60, 80, 100], "labelOverlap": false, "labelExpr": "replace(format(datum.value, 'd'), '−', '-')", "labelFontSize": 14, "titleFontSize": 19, "titleLineHeight": 23, "title": ["Pᵢₚ", "(mmHg)"], "titlePadding": 10}}, "text": {"field": "label"}}}
        ]
      }
    ]
  }
]
}
